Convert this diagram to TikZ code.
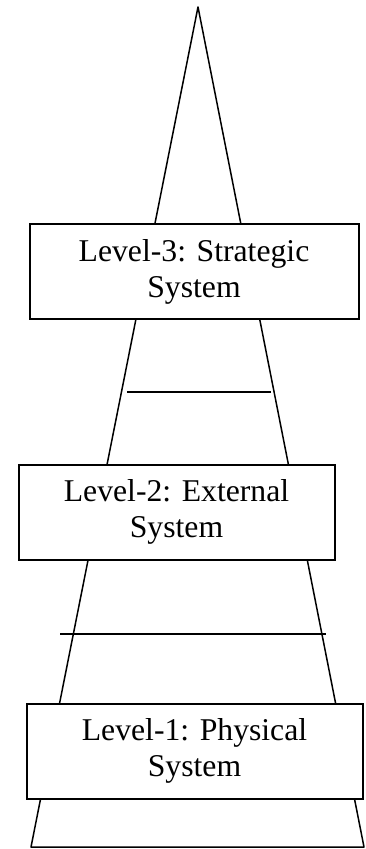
\documentclass[tikz,border=0pt]{standalone}
\usepackage{fontspec}
\setmainfont{Liberation Serif}
\usetikzlibrary{positioning}

\begin{document}
\begin{tikzpicture}[x=1pt, y=-1pt,
    levelnode/.style={draw=black, line width=2pt, fill=white, align=center, inner sep=0pt, minimum height=95pt, font=\fontsize{31.7}{36}\selectfont},
    sideline/.style={draw=black, line width=1.5pt, line join=round},
    rungline/.style={draw=black, line width=1.3pt}]
  \useasboundingbox (0,0) rectangle (365,849);
  \coordinate (apex) at (198,7);
  \coordinate (baseL) at (31,847);
  \coordinate (baseR) at (364,847);
  \coordinate (r3L) at (127,392);
  \coordinate (r3R) at (271,392);
  \coordinate (r2L) at (60,634);
  \coordinate (r2R) at (326,634);
  \draw[sideline] (apex) -- (baseL) -- (baseR) -- cycle;
  \draw[rungline] (r3L) -- (r3R);
  \draw[rungline] (r2L) -- (r2R);
  \node[levelnode, minimum width=329pt] (l3) at (194,271.5) {Level-3: Strategic\\System};
  \node[levelnode, minimum width=316pt] (l2) at (176.5,512) {Level-2: External\\System};
  \node[levelnode, minimum width=336pt] (l1) at (194.5,751) {Level-1: Physical\\System};
\end{tikzpicture}
\end{document}
